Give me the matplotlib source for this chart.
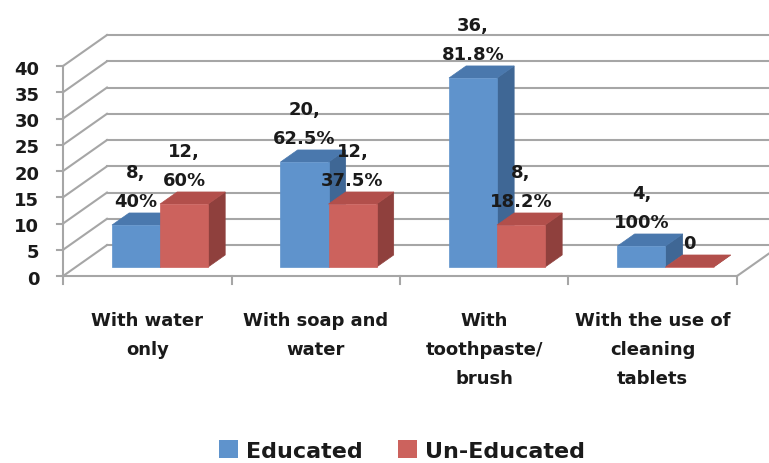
import matplotlib.pyplot as plt
from matplotlib.patches import Polygon, Patch

categories = ["With water\nonly", "With soap and\nwater", "With\ntoothpaste/\nbrush",
              "With the use of\ncleaning\ntablets"]
educated = [8, 20, 36, 4]
uneducated = [12, 12, 8, 0]
edu_labels = ["8,\n40%", "20,\n62.5%", "36,\n81.8%", "4,\n100%"]
unedu_labels = ["12,\n60%", "12,\n37.5%", "8,\n18.2%", "0"]
series_names = ["Educated", "Un-Educated"]
yticks = list(range(0, 45, 5))

plt.rcParams['font.family'] = ['DejaVu Sans']
plt.rcParams['font.weight'] = 'bold'

# oblique "3d" depth in data units (categories on x, values on y)
DX, DY = 0.261, 5.9
F0, BD = 0.29, 0.39   # bar front position / bar depth as fraction of depth
W = 0.285             # bar width
grid_c = '#a6a6a6'
txt_c = '#1a1a1a'
cols = {"Educated": ('#5f93cc', '#4a78ad', '#3f6795'),
        "Un-Educated": ('#cc625d', '#b24f4b', '#8f403d')}

fig = plt.figure(figsize=(7.69, 4.64), dpi=100)
ax = fig.add_axes([0, 0, 1, 1])
ax.set_xlim(-0.374, 4.19)
ax.set_ylim(-35.6, 52.76)
ax.axis('off')

n = len(categories)
# back wall gridlines + side wall diagonals
for v in yticks:
    ax.plot([DX, n + DX + 0.3], [v + DY, v + DY], color=grid_c, lw=1.5, zorder=1)
    ax.plot([0, DX], [v, v + DY], color=grid_c, lw=1.5, zorder=1)
    ax.plot([-0.036, 0], [v, v], color=grid_c, lw=1.5, zorder=1)
    ax.text(-0.14, v - 0.5, str(v), ha='right', va='center', fontsize=13, color=txt_c)
ax.plot([0, 0], [0, yticks[-1]], color=grid_c, lw=1.5, zorder=1)
ax.plot([n, n + DX], [0, DY], color=grid_c, lw=1.5, zorder=1)
for i in range(n + 1):
    ax.plot([i, i], [0, -1.6], color=grid_c, lw=1.5, zorder=5)


def bar3d(x, h, c):
    fx, fy = F0 * DX, F0 * DY
    bx, by = BD * DX, BD * DY
    x = x + fx
    y0 = fy
    front = [(x, y0), (x + W, y0), (x + W, y0 + h), (x, y0 + h)]
    top = [(x, y0 + h), (x + W, y0 + h), (x + W + bx, y0 + h + by), (x + bx, y0 + h + by)]
    side = [(x + W, y0), (x + W + bx, y0 + by), (x + W + bx, y0 + h + by), (x + W, y0 + h)]
    for pts, col in ((side, c[2]), (top, c[1]), (front, c[0])):
        ax.add_patch(Polygon(pts, closed=True, facecolor=col, edgecolor=col, lw=0.5, zorder=3))
    return x + W / 2, y0 + h + by


for i in range(n):
    for k, (vals, labs, name) in enumerate(((educated, edu_labels, series_names[0]),
                                            (uneducated, unedu_labels, series_names[1]))):
        x0 = i + 0.5 - W + k * W
        cx, ty = bar3d(x0, vals[i], cols[name])
        ax.text(cx, ty + 0.6, labs[i], ha='center', va='bottom', fontsize=13,
                linespacing=1.75, zorder=6, color=txt_c)
    ax.text(i + 0.5, -6.6, categories[i], ha='center', va='top', fontsize=13,
            linespacing=1.8, color=txt_c)

ax.plot([0, n], [0, 0], color=grid_c, lw=1.5, zorder=5)

handles = [Patch(facecolor=cols[s][0], edgecolor='none') for s in series_names]
ax.legend(handles, series_names, loc='center', bbox_to_anchor=(0.523, 0.027), ncol=2,
          frameon=False, fontsize=16, handlelength=0.85, handleheight=0.85,
          handletextpad=0.36, columnspacing=1.6, labelcolor=txt_c)

fig.savefig('out.png', dpi=100)
